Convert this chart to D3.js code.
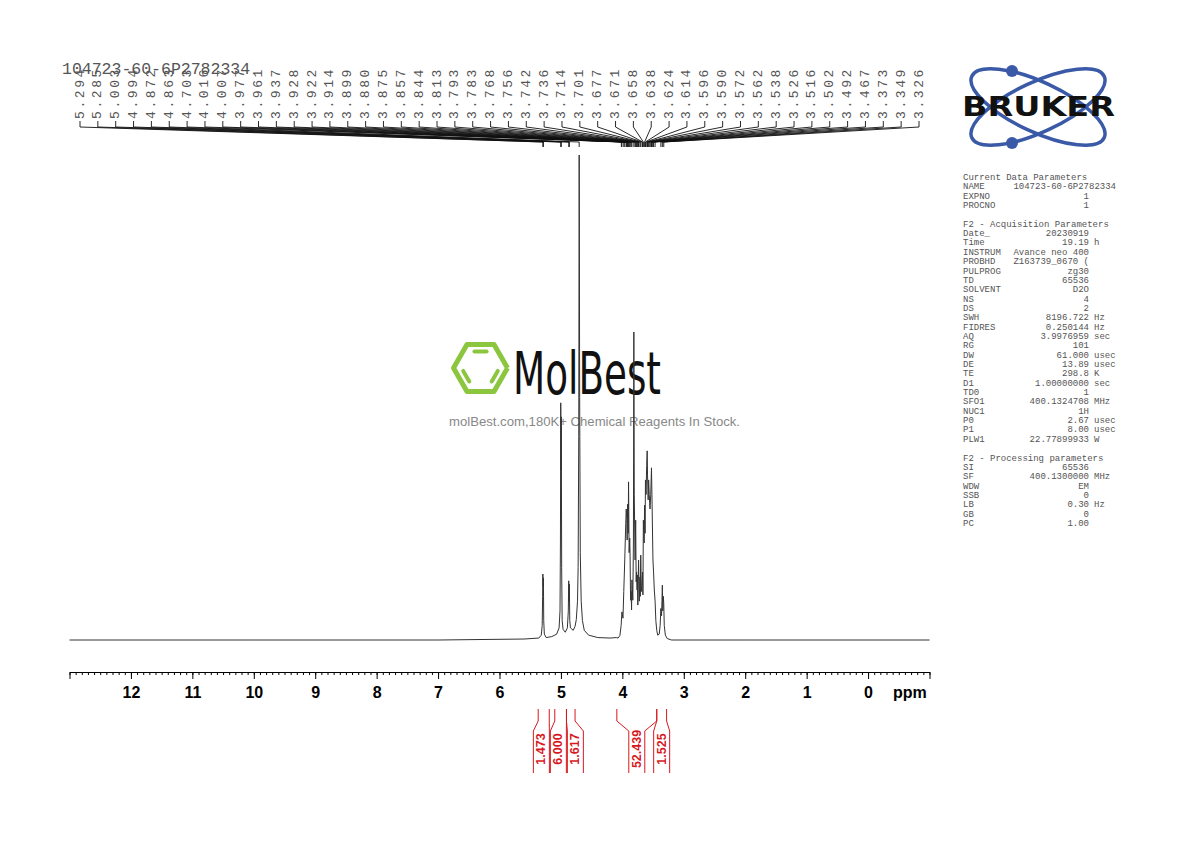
<!DOCTYPE html>
<html>
<head>
<meta charset="utf-8">
<script src="https://cdn.jsdelivr.net/npm/d3@7"></script>
<style>
body { margin: 0; background: #fff; }
svg { display: block; }
</style>
</head>
<body>
<div id="chart-area"></div>
<script>
// sample name printed top left
var sampleName = "104723-60-6P2782334";

// picked peaks (ppm) shown on top
var peakLabels = [5.294, 5.285, 5.003, 4.994, 4.872, 4.863, 4.703, 4.016, 4.007, 3.977,
    3.961, 3.937, 3.928, 3.922, 3.914, 3.899, 3.880, 3.875, 3.857, 3.844,
    3.813, 3.793, 3.783, 3.768, 3.756, 3.742, 3.736, 3.714, 3.701, 3.677,
    3.671, 3.658, 3.638, 3.624, 3.614, 3.596, 3.590, 3.572, 3.562, 3.538,
    3.526, 3.516, 3.502, 3.492, 3.467, 3.373, 3.349, 3.326];

// x axis labels
var axisTicks = [12, 11, 10, 9, 8, 7, 6, 5, 4, 3, 2, 1, 0];

// spectrum trace: [ppm, intensity (HDO = 100)]
var spectrum = [
    [13.0, 0], [10.0, 0], [7.0, 0], [5.60, 0.2], [5.36, 0.4], [5.32, 1.0], [5.305, 3.0],
    [5.298, 9], [5.294, 13.6], [5.289, 11], [5.285, 12.8], [5.28, 4], [5.27, 1.2],
    [5.24, 0.5], [5.15, 0.7], [5.07, 1.2], [5.03, 2.5], [5.015, 6], [5.008, 20],
    [5.003, 48.9], [4.998, 35], [4.994, 46], [4.988, 15], [4.98, 4], [4.965, 2.2],
    [4.93, 1.6], [4.895, 2.5], [4.88, 6], [4.873, 12.2], [4.868, 8], [4.863, 11.5],
    [4.856, 4], [4.845, 2.5], [4.80, 2.0], [4.77, 2.8], [4.75, 4.2], [4.73, 8],
    [4.72, 15], [4.71, 42], [4.705, 80], [4.703, 100], [4.700, 85], [4.695, 50],
    [4.685, 18], [4.67, 8], [4.65, 4], [4.62, 2], [4.55, 1], [4.40, 0.5], [4.20, 0.4],
    [4.10, 0.5], [4.07, 0.4], [4.04, 0.9], [4.02, 3], [4.007, 5.8], [3.99, 4.5],
    [3.977, 10], [3.961, 16.5], [3.945, 24], [3.937, 27], [3.928, 25], [3.922, 20.6],
    [3.914, 28], [3.905, 22], [3.899, 32.6], [3.89, 18], [3.880, 21], [3.875, 18],
    [3.866, 8.2], [3.857, 10], [3.85, 6.2], [3.844, 12.4], [3.83, 8.2], [3.820, 20],
    [3.813, 63.5], [3.806, 30], [3.793, 16.5], [3.783, 24.7], [3.775, 12], [3.768, 14],
    [3.76, 10.3], [3.756, 13.4], [3.748, 7.2], [3.742, 12], [3.736, 16.5], [3.725, 8],
    [3.714, 13], [3.708, 9], [3.701, 17.5], [3.69, 10], [3.677, 12], [3.671, 14],
    [3.665, 9.3], [3.658, 24.7], [3.645, 20], [3.638, 27.8], [3.630, 22], [3.624, 33],
    [3.614, 30], [3.604, 36], [3.596, 39], [3.590, 34], [3.580, 28.9], [3.572, 33],
    [3.562, 30], [3.55, 27], [3.538, 30], [3.526, 35.5], [3.516, 28], [3.502, 16.5],
    [3.492, 14], [3.48, 10.3], [3.467, 8], [3.455, 4], [3.44, 2], [3.425, 1],
    [3.40, 1.2], [3.385, 3], [3.373, 6.5], [3.362, 5], [3.355, 8.2], [3.349, 11.3],
    [3.342, 6], [3.333, 9], [3.326, 7.5], [3.318, 3], [3.30, 1], [3.27, 0.3],
    [3.20, 0], [2.0, 0], [-1.0, 0]
];

// integrals (ppm limits) and their values
var integralFrom = [5.37, 5.10, 4.91, 4.09, 3.44];
var integralTo = [5.19, 4.91, 4.77, 3.44, 3.28];
var integralValues = ["1.473", "6.000", "1.617", "52.439", "1.525"];

// parameter panel
var paramRows = [
    ["Current Data Parameters"],
    ["NAME", "104723-60-6P2782334", ""],
    ["EXPNO", "1", ""],
    ["PROCNO", "1", ""],
    [""],
    ["F2 - Acquisition Parameters"],
    ["Date_", "20230919", ""],
    ["Time", "19.19", "h"],
    ["INSTRUM", "Avance neo 400", ""],
    ["PROBHD", "Z163739_0670 (", ""],
    ["PULPROG", "zg30", ""],
    ["TD", "65536", ""],
    ["SOLVENT", "D2O", ""],
    ["NS", "4", ""],
    ["DS", "2", ""],
    ["SWH", "8196.722", "Hz"],
    ["FIDRES", "0.250144", "Hz"],
    ["AQ", "3.9976959", "sec"],
    ["RG", "101", ""],
    ["DW", "61.000", "usec"],
    ["DE", "13.89", "usec"],
    ["TE", "298.8", "K"],
    ["D1", "1.00000000", "sec"],
    ["TD0", "1", ""],
    ["SFO1", "400.1324708", "MHz"],
    ["NUC1", "1H", ""],
    ["P0", "2.67", "usec"],
    ["P1", "8.00", "usec"],
    ["PLW1", "22.77899933", "W"],
    [""],
    ["F2 - Processing parameters"],
    ["SI", "65536", ""],
    ["SF", "400.1300000", "MHz"],
    ["WDW", "EM", ""],
    ["SSB", "0", ""],
    ["LB", "0.30", "Hz"],
    ["GB", "0", ""],
    ["PC", "1.00", ""]
];

var svg = d3.select("#chart-area")
    .append("svg")
    .attr("width", 1190)
    .attr("height", 842);

var x = d3.scaleLinear().domain([13, -1]).range([69.5, 929.5]);
var y = d3.scaleLinear().domain([0, 100]).range([640, 155]);
var red = "#d7191f";
var mono = "'Liberation Mono', 'DejaVu Sans Mono', monospace";
var sans = "'Liberation Sans', Arial, sans-serif";

// --- watermark (behind the trace)
var wm = svg.append("g");
var hx = 480.5, hy = 368, R = 27;
var hexPts = d3.range(7).map(function (k) {
    var a = Math.PI / 3 * k;
    return [hx + R * Math.cos(a), hy + R * Math.sin(a)];
});
wm.append("path")
    .attr("d", d3.line()(hexPts))
    .attr("fill", "none")
    .attr("stroke", "#8cc63f")
    .attr("stroke-width", 5)
    .attr("stroke-linejoin", "round");
var Ri = 19;
[[4, 5], [2, 3], [0, 1]].forEach(function (e) {
    var a0 = Math.PI / 3 * e[0], a1 = Math.PI / 3 * e[1];
    var p0 = [hx + Ri * Math.cos(a0), hy + Ri * Math.sin(a0)];
    var p1 = [hx + Ri * Math.cos(a1), hy + Ri * Math.sin(a1)];
    var s = 0.18;
    wm.append("line")
        .attr("x1", p0[0] + (p1[0] - p0[0]) * s).attr("y1", p0[1] + (p1[1] - p0[1]) * s)
        .attr("x2", p1[0] - (p1[0] - p0[0]) * s).attr("y2", p1[1] - (p1[1] - p0[1]) * s)
        .attr("stroke", "#8cc63f")
        .attr("stroke-width", 4)
        .attr("stroke-linecap", "round");
});
wm.append("text")
    .attr("x", 513).attr("y", 394)
    .attr("font-family", "'DejaVu Sans', sans-serif")
    .attr("font-size", 58)
    .attr("textLength", 148)
    .attr("lengthAdjust", "spacingAndGlyphs")
    .attr("fill", "#111")
    .text("MolBest");
wm.append("text")
    .attr("x", 449).attr("y", 426)
    .attr("font-family", sans)
    .attr("font-size", 13.5)
    .attr("textLength", 291)
    .attr("lengthAdjust", "spacingAndGlyphs")
    .attr("fill", "#888")
    .text("molBest.com,180K+ Chemical Reagents In Stock.");

// --- spectrum trace
svg.append("path")
    .datum(spectrum)
    .attr("d", d3.line().x(function (d) { return x(d[0]); }).y(function (d) { return y(d[1]); }))
    .attr("fill", "none")
    .attr("stroke", "#333")
    .attr("stroke-width", 1);

// --- x axis
var minorTicks = d3.range(-10, 131).map(function (d) { return d / 10; });
svg.append("g")
    .attr("transform", "translate(0,672)")
    .call(d3.axisBottom(x).tickValues(minorTicks).tickSize(3).tickSizeOuter(0).tickFormat(""))
    .call(function (g) { g.select(".domain").remove(); })
    .selectAll("line").attr("stroke", "#000");
var ax = svg.append("g")
    .attr("transform", "translate(0,672)")
    .call(d3.axisBottom(x).tickValues(axisTicks).tickSize(7).tickSizeOuter(7).tickPadding(8));
ax.select(".domain").attr("stroke", "#000");
ax.selectAll("text")
    .attr("font-family", sans)
    .attr("font-weight", "bold")
    .attr("font-size", 16)
    .attr("fill", "#000");
svg.append("text")
    .attr("x", 893).attr("y", 698)
    .attr("font-family", sans)
    .attr("font-weight", "bold")
    .attr("font-size", 16)
    .text("ppm");

// --- peak labels
var labelX = d3.scalePoint().domain(d3.range(peakLabels.length)).range([80, 919]);
var pk = svg.append("g");
pk.selectAll("path")
    .data(peakLabels)
    .enter()
    .append("path")
    .attr("d", function (d, i) {
        return "M" + labelX(i) + ",121V127L" + x(d) + ",142V147";
    })
    .attr("fill", "none")
    .attr("stroke", "#111")
    .attr("stroke-width", 0.9);
pk.selectAll("text")
    .data(peakLabels)
    .enter()
    .append("text")
    .attr("transform", function (d, i) {
        return "translate(" + labelX(i) + ",119) rotate(-90)";
    })
    .attr("dominant-baseline", "central")
    .attr("font-family", mono)
    .attr("font-size", 13)
    .attr("letter-spacing", 2.6)
    .attr("fill", "#555")
    .text(function (d) { return d.toFixed(3); });

svg.append("text")
    .attr("x", 62).attr("y", 74)
    .attr("font-family", mono)
    .attr("font-size", 16.5)
    .attr("fill", "#555")
    .text(sampleName);

// --- integrals
var centers = integralFrom.map(function (f, i) { return (x(f) + x(integralTo[i])) / 2; });
for (var it = 0; it < 20; it++) {
    for (var k = 1; k < centers.length; k++) {
        var gap = centers[k] - centers[k - 1];
        if (gap < 17) {
            centers[k - 1] -= (17 - gap) / 2;
            centers[k] += (17 - gap) / 2;
        }
    }
}
var ig = svg.append("g");
integralValues.forEach(function (v, i) {
    var xa = x(integralFrom[i]), xb = x(integralTo[i]), c = centers[i];
    ig.append("path")
        .attr("d", "M" + xa + ",709V721L" + (c - 8) + ",731V773" +
            "M" + xb + ",709V721L" + (c + 8) + ",731V773")
        .attr("fill", "none")
        .attr("stroke", red)
        .attr("stroke-width", 1);
    ig.append("text")
        .attr("transform", "translate(" + c + ",749) rotate(-90)")
        .attr("text-anchor", "middle")
        .attr("dominant-baseline", "central")
        .attr("font-family", sans)
        .attr("font-weight", "bold")
        .attr("font-size", 12.5)
        .attr("fill", red)
        .text(v);
});

// --- Bruker logo
var logo = svg.append("g");
[25, -25].forEach(function (ang) {
    logo.append("ellipse")
        .attr("cx", 0).attr("cy", 0).attr("rx", 73).attr("ry", 25)
        .attr("transform", "translate(1038,107) rotate(" + ang + ")")
        .attr("fill", "none")
        .attr("stroke", "#3a5aa8")
        .attr("stroke-width", 3.5);
});
[[1012, 71], [1012, 143]].forEach(function (p) {
    logo.append("circle").attr("cx", p[0]).attr("cy", p[1]).attr("r", 6).attr("fill", "#3a5aa8");
});
logo.append("text")
    .attr("x", 962).attr("y", 116)
    .attr("font-family", "'DejaVu Sans', sans-serif")
    .attr("font-weight", "bold")
    .attr("font-size", 26)
    .attr("textLength", 153)
    .attr("lengthAdjust", "spacingAndGlyphs")
    .attr("fill", "#111")
    .text("BRUKER");

// --- parameter panel
var pp = svg.append("g")
    .attr("font-family", mono)
    .attr("font-size", 9)
    .attr("fill", "#555");
paramRows.forEach(function (r, i) {
    var yy = 180 + i * 9.35;
    pp.append("text").attr("x", 963).attr("y", yy).attr("xml:space", "preserve").text(r[0]);
    if (r.length > 1) {
        pp.append("text")
            .attr("x", r[0] === "NAME" ? 1116 : 1089).attr("y", yy)
            .attr("text-anchor", "end")
            .text(r[1]);
        pp.append("text").attr("x", 1094).attr("y", yy).text(r[2]);
    }
});
</script>
</body>
</html>
